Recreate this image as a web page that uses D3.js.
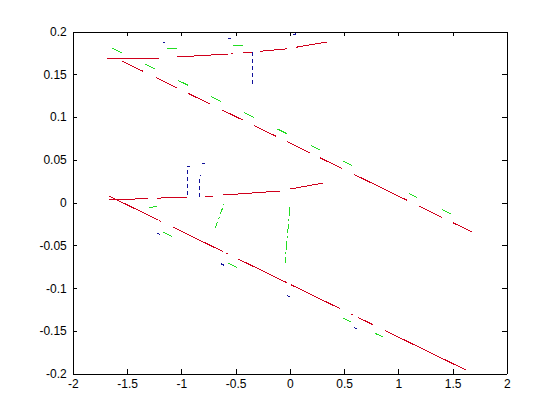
<!DOCTYPE html>
<html>
<head>
<meta charset="utf-8">
<script src="https://cdn.jsdelivr.net/npm/d3@7"></script>
<style>
  body { margin: 0; background: #fff; }
  .tick text { font-family: "Liberation Sans", Arial, sans-serif; font-size: 12px; fill: #000; }
</style>
</head>
<body>
<script>
// axis ticks
const xTicks = [-2, -1.5, -1, -0.5, 0, 0.5, 1, 1.5, 2];
const yTicks = [-0.2, -0.15, -0.1, -0.05, 0, 0.05, 0.1, 0.15, 0.2];

// each line: vertices [x, y] and the x ranges where the line is actually drawn
const redTopFlat = [[-1.685, 0.1679], [-1.201, 0.1683], [-1.040, 0.1702], [-0.570, 0.1737], [-0.348, 0.1760], [-0.026, 0.1798], [0.343, 0.1877]];
const redTopFlatDash = [[-1.685, -1.201], [-1.040, -0.570], [-0.542, -0.524], [-0.431, -0.348], [-0.274, -0.026], [0.057, 0.343]];

const redTopDiag = [[-1.547, 0.1655], [1.679, -0.0343]];
const redTopDiagDash = [[-1.547, -1.353], [-1.233, -1.040], [-0.938, -0.735], [-0.625, -0.431], [-0.330, -0.127], [-0.026, 0.186], [0.278, 0.481], [0.591, 1.080], [1.190, 1.402], [1.504, 1.679]];

const greenTopDiag = [[-1.639, 0.1807], [1.486, -0.0133]];
const greenTopDiagDash = [[-1.639, -1.547], [-1.335, -1.242], [-1.030, -0.938], [-0.726, -0.634], [-0.422, -0.330], [-0.118, -0.026], [0.195, 0.278], [0.490, 0.573], [1.098, 1.172], [1.402, 1.486]];

const greenTopFlat = [[-1.132, 0.1796], [-0.431, 0.1842]];
const greenTopFlatDash = [[-1.132, -1.040], [-0.524, -0.431]];

const blueTopFlat = [[-1.172, 0.1866], [0.057, 0.1971]];
const blueTopFlatDash = [[-1.172, -1.150], [-0.567, -0.541], [0.032, 0.057]];

const redLowFlat = [[-1.667, 0.0031], [-0.947, 0.0066], [-0.782, 0.0066], [-0.616, 0.0089], [-0.090, 0.0136], [0.002, 0.0159], [0.306, 0.0229]];
const redLowFlatDash = [[-1.667, -1.307], [-1.224, -0.947], [-0.782, -0.708], [-0.616, -0.090], [0.002, 0.306]];

const redLowDiag = [[-1.667, 0.0078], [1.624, -0.1956]];
const redLowDiagDash = [[-1.667, -1.215], [-1.203, -1.187], [-1.077, -0.616], [-0.583, -0.570], [-0.477, -0.026], [0.011, 0.463], [0.564, 0.582], [0.629, 0.767], [0.878, 1.624]];

const greenLowDiag = [[-1.169, -0.0343], [0.858, -0.1570]];
const greenLowDiagDash = [[-1.169, -1.086], [-0.570, -0.487], [0.490, 0.564], [0.785, 0.858]];

const greenLowFlat = [[-1.298, -0.0063], [-1.224, -0.0039]];
const greenLowFlatDash = [[-1.298, -1.224]];

const blueLowDiag = [[-1.224, -0.0355], [0.619, -0.1477]];
const blueLowDiagDash = [[-1.224, -1.196], [-0.634, -0.606], [-0.026, 0.002], [0.591, 0.619]];

// near-vertical strokes, drawn with a dash pattern
const blueTopDrop = [[-0.348, 0.1760], [-0.348, 0.1363]];
const blueLowRiseA = [[-0.947, 0.0089], [-0.947, 0.0428], [-0.910, 0.0428]];
const blueLowRiseB = [[-0.836, 0.0066], [-0.836, 0.0292], [-0.821, 0.0323]];
const blueLowCap = [[-0.809, 0.0463], [-0.782, 0.0463]];
const greenSlantA = [[-0.689, -0.0300], [-0.606, -0.0016]];
const greenSlantB = [[0.002, -0.0047], [-0.044, -0.0709]];

const RED = "#d0001c";
const GREEN = "#22dd22";
const BLUE = "#10109a";

const W = 560, H = 420;
const MARGIN = { TOP: 31.5, BOTTOM: 46.2, LEFT: 72.8, RIGHT: 53.2 };

const svg = d3.select("body").append("svg")
    .attr("width", W)
    .attr("height", H)
    .style("background", "#fff");

const x = d3.scaleLinear().domain([-2, 2]).range([MARGIN.LEFT, W - MARGIN.RIGHT]);
const y = d3.scaleLinear().domain([-0.2, 0.2]).range([H - MARGIN.BOTTOM, MARGIN.TOP]);

const line = d3.line().x(d => x(d[0])).y(d => y(d[1]));

function yAt(pts, v) {
    for (let i = 0; i < pts.length - 1; i++) {
        const a = pts[i], b = pts[i + 1];
        if (v >= a[0] && v <= b[0]) {
            const t = b[0] === a[0] ? 0 : (v - a[0]) / (b[0] - a[0]);
            return a[1] + t * (b[1] - a[1]);
        }
    }
    return v < pts[0][0] ? pts[0][1] : pts[pts.length - 1][1];
}

function pieces(pts, ranges) {
    return ranges.map(([a, b]) => {
        const inner = pts.filter(p => p[0] > a && p[0] < b);
        return [[a, yAt(pts, a)], ...inner, [b, yAt(pts, b)]];
    });
}

const plot = svg.append("g");

function drawBroken(pts, ranges, color) {
    plot.append("g")
        .selectAll("path")
        .data(pieces(pts, ranges))
        .enter()
        .append("path")
        .attr("d", line)
        .attr("fill", "none")
        .attr("stroke", color)
        .attr("stroke-width", 1)
        .attr("shape-rendering", "crispEdges");
}

function drawDashed(pts, color, dash) {
    plot.append("path")
        .datum(pts)
        .attr("d", line)
        .attr("fill", "none")
        .attr("stroke", color)
        .attr("stroke-width", 1)
        .attr("stroke-dasharray", dash)
        .attr("shape-rendering", "crispEdges");
}

drawBroken(greenTopDiag, greenTopDiagDash, GREEN);
drawBroken(greenTopFlat, greenTopFlatDash, GREEN);
drawBroken(greenLowDiag, greenLowDiagDash, GREEN);
drawBroken(greenLowFlat, greenLowFlatDash, GREEN);
drawDashed(greenSlantA, GREEN, "7,3,2,3");
drawDashed(greenSlantB, GREEN, "9,3,2,3");

drawBroken(blueTopFlat, blueTopFlatDash, BLUE);
drawBroken(blueLowDiag, blueLowDiagDash, BLUE);
drawDashed(blueTopDrop, BLUE, "4,3");
drawDashed(blueLowRiseA, BLUE, "4,3");
drawDashed(blueLowRiseB, BLUE, "4,3");
drawDashed(blueLowCap, BLUE, null);

drawBroken(redTopFlat, redTopFlatDash, RED);
drawBroken(redTopDiag, redTopDiagDash, RED);
drawBroken(redLowFlat, redLowFlatDash, RED);
drawBroken(redLowDiag, redLowDiagDash, RED);

// axes, ticks pointing inward on all four sides
const TICK = 4.5;
const fmt = d => String(d);

svg.append("g")
    .attr("transform", `translate(0,${H - MARGIN.BOTTOM})`)
    .call(d3.axisBottom(x).tickValues(xTicks).tickFormat(fmt).tickSizeInner(-TICK).tickSizeOuter(0).tickPadding(6));
svg.append("g")
    .attr("transform", `translate(${MARGIN.LEFT},0)`)
    .call(d3.axisLeft(y).tickValues(yTicks).tickFormat(fmt).tickSizeInner(-TICK).tickSizeOuter(0).tickPadding(6));
svg.append("g")
    .attr("transform", `translate(0,${MARGIN.TOP})`)
    .call(d3.axisTop(x).tickValues(xTicks).tickFormat("").tickSizeInner(-TICK).tickSizeOuter(0));
svg.append("g")
    .attr("transform", `translate(${W - MARGIN.RIGHT},0)`)
    .call(d3.axisRight(y).tickValues(yTicks).tickFormat("").tickSizeInner(-TICK).tickSizeOuter(0));

svg.selectAll(".domain, .tick line")
    .attr("stroke", "#000")
    .attr("shape-rendering", "crispEdges");
</script>
</body>
</html>
